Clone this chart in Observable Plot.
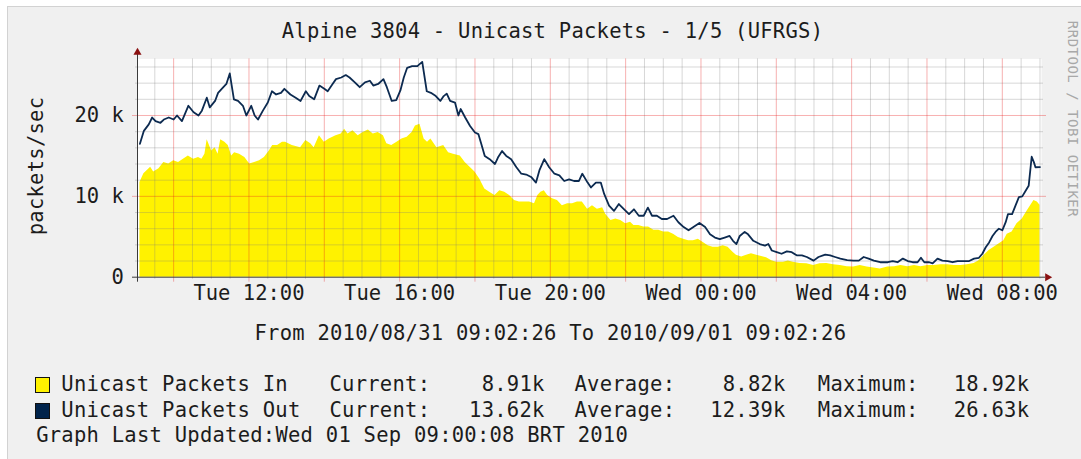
<!DOCTYPE html>
<html>
<head>
<meta charset="utf-8">
<script src="https://cdn.jsdelivr.net/npm/d3@7"></script>
<script src="https://cdn.jsdelivr.net/npm/@observablehq/plot@0.6"></script>
<style>
  html, body { margin: 0; padding: 0; background: #ffffff; }
  #root { position: relative; width: 1081px; height: 459px; overflow: hidden; font-family: "DejaVu Sans Mono", monospace; color: #1c1c1c; }
  #bg { position: absolute; left: 7px; top: 6px; width: 1074px; height: 453px; background: #f0f0f0; border-left: 1px solid #d2d2d2; border-top: 1px solid #d2d2d2; }
  .t { position: absolute; font-size: 20.5px; line-height: 20.5px; letter-spacing: 0.25px; white-space: pre; }
  .r { text-align: right; }
  .sw { position: absolute; width: 13px; height: 14px; border: 1px solid #111; }
  #chart { position: absolute; left: 0; top: 45px; }
</style>
</head>
<body>
<div id="root">
  <div id="bg"></div>
  <div class="t" id="title" style="left:552.5px; top:21px; transform:translateX(-50%);"></div>
  <div class="t" id="ylabel" style="left:36px; top:166px; transform:translate(-50%,-50%) rotate(-90deg);"></div>
  <div class="t" id="wm" style="left:1072.5px; top:119px; font-size:14px; line-height:14px; letter-spacing:0.5px; color:#a8a8a8; transform:translate(-50%,-50%) rotate(90deg);"></div>
  <div id="chart"></div>
  <div class="t" id="range" style="left:550.4px; top:322.5px; transform:translateX(-50%);"></div>
  <div id="legend"></div>
</div>
<script>
// ---- texts ----
const titleText = "Alpine 3804 - Unicast Packets - 1/5 (UFRGS)";
const yAxisLabel = "packets/sec";
const watermark = "RRDTOOL / TOBI OETIKER";
const rangeText = "From 2010/08/31 09:02:26 To 2010/09/01 09:02:26";
const updatedText = "Graph Last Updated:Wed 01 Sep 09:00:08 BRT 2010";

// ---- axis tick labels ----
const xTickLabels = ["Tue 12:00", "Tue 16:00", "Tue 20:00", "Wed 00:00", "Wed 04:00", "Wed 08:00"];
const yTicks = [0, 10000, 20000];
const yTickLabels = ["0", "10 k", "20 k"];

// ---- series: hours since Tue 2010-08-31 00:00, values in thousands of packets/sec ----
const outHours = [
  9.105, 9.21, 9.34, 9.43, 9.52, 9.65, 9.74, 9.87, 10.0, 10.09, 10.22, 10.39, 10.53, 10.66, 10.75, 10.88, 10.96, 11.10, 11.18, 11.32,
  11.40, 11.49, 11.60, 11.71, 11.84, 11.93, 12.06, 12.15, 12.24, 12.37, 12.50, 12.61, 12.72, 12.85, 12.94,
  13.10, 13.24, 13.37, 13.51, 13.60, 13.73, 13.87, 14.0, 14.09, 14.22, 14.31, 14.45, 14.57, 14.67, 14.81, 14.94, 15.08, 15.21, 15.30, 15.43,
  15.57, 15.66, 15.79, 15.91, 16.02, 16.11, 16.20, 16.33, 16.47, 16.60, 16.72, 16.83, 16.96,
  17.08, 17.17, 17.25, 17.34, 17.47, 17.56, 17.62, 17.74, 17.87, 18.0, 18.09, 18.18, 18.26, 18.39, 18.53, 18.61, 18.72, 18.83, 18.96, 19.10,
  19.23, 19.36, 19.49, 19.62, 19.71, 19.84, 19.97, 20.11, 20.24, 20.37, 20.50, 20.63, 20.76, 20.85,
  20.99, 21.08, 21.21, 21.34, 21.43, 21.56, 21.69, 21.82, 21.96, 22.09, 22.22, 22.35, 22.48, 22.59, 22.70, 22.83, 22.96, 23.10, 23.27, 23.40,
  23.54, 23.67, 23.80, 23.96, 24.11, 24.24, 24.37, 24.50, 24.63, 24.76, 24.85,
  24.94, 25.03, 25.16, 25.25, 25.39, 25.56, 25.70, 25.79, 25.88, 26.01, 26.14, 26.28, 26.41, 26.54, 26.68, 26.81, 26.99, 27.12, 27.30, 27.43,
  27.56, 27.70, 27.88, 28.05, 28.19, 28.32, 28.45, 28.59, 28.76,
  28.96, 29.09, 29.22, 29.36, 29.49, 29.62, 29.75, 29.84, 29.93, 30.06, 30.15, 30.28, 30.41, 30.55, 30.68, 30.81, 30.94, 31.12, 31.25, 31.38,
  31.47, 31.56, 31.65, 31.74, 31.82, 31.91, 32.0, 32.09, 32.15, 32.26, 32.35, 32.44, 32.53, 32.62, 32.70, 32.78, 32.84, 32.88, 33.0
];
const outValues = [
  16.5, 18.1, 18.9, 19.75, 19.3, 19.1, 19.5, 19.75, 19.5, 20.0, 19.3, 21.2, 20.4, 20.0, 20.6, 22.2, 21.0, 21.8, 22.8, 23.5,
  23.9, 25.2, 22.0, 21.8, 21.2, 20.0, 21.2, 20.0, 19.5, 20.6, 21.6, 23.0, 22.6, 22.8, 23.3,
  22.6, 22.2, 21.8, 23.0, 22.4, 22.0, 23.7, 23.3, 23.0, 23.9, 24.5, 24.7, 25.0, 24.7, 24.1, 23.5, 24.1, 24.3, 23.7, 23.9,
  24.5, 23.5, 21.8, 21.9, 23.1, 24.7, 25.9, 26.1, 26.1, 26.63, 23.0, 22.8, 22.4,
  21.8, 22.4, 22.7, 21.8, 21.6, 20.0, 20.8, 19.75, 18.7, 17.9, 17.7, 16.3, 15.0, 14.6, 14.0, 14.8, 15.6, 15.0, 14.6, 13.6,
  12.8, 12.7, 12.4, 11.7, 13.2, 14.6, 13.6, 12.8, 12.6, 11.9, 12.1, 11.9, 11.9, 12.8,
  11.7, 11.1, 11.7, 11.7, 10.3, 8.85, 8.2, 9.05, 8.4, 7.8, 8.4, 7.6, 7.6, 8.6, 7.6, 7.6, 7.2, 7.2, 7.6, 6.8,
  6.2, 5.8, 6.2, 6.7, 6.2, 5.3, 4.9, 4.7, 4.9, 5.1, 4.5,
  4.1, 5.1, 5.6, 5.3, 4.5, 4.1, 3.9, 4.1, 3.3, 3.1, 2.9, 3.2, 3.1, 2.7, 2.7, 2.5, 2.05, 2.5, 2.8, 2.7,
  2.5, 2.3, 2.1, 2.05, 2.05, 2.5, 2.3, 2.05, 1.85,
  1.85, 2.0, 1.85, 2.3, 2.0, 1.85, 1.85, 2.4, 1.85, 1.85, 1.7, 2.3, 2.05, 2.0, 1.85, 2.0, 2.0, 2.0, 2.3, 2.4,
  2.9, 3.7, 4.3, 5.1, 5.6, 6.0, 5.8, 6.8, 7.8, 7.8, 8.85, 9.9, 10.0, 10.7, 11.3, 14.9, 14.2, 13.6, 13.62
];
const inHours = [
  9.105, 9.21, 9.39, 9.47, 9.61, 9.74, 9.87, 10.0, 10.13, 10.26, 10.39, 10.53, 10.66, 10.75, 10.83, 10.89, 11.01, 11.10, 11.18, 11.25,
  11.36, 11.45, 11.54, 11.62, 11.75, 11.89, 12.02, 12.15, 12.28, 12.41, 12.54, 12.63, 12.76, 12.89,
  12.97, 13.15, 13.37, 13.51, 13.64, 13.73, 13.87, 14.0, 14.13, 14.31, 14.45, 14.54, 14.63, 14.76, 14.90, 15.03, 15.17, 15.30, 15.43, 15.57,
  15.66, 15.79, 15.93, 16.06, 16.20, 16.33, 16.42, 16.54, 16.65, 16.74, 16.83,
  16.99, 17.17, 17.30, 17.43, 17.61, 17.74, 17.87, 18.0, 18.13, 18.26, 18.39, 18.53, 18.66, 18.79, 18.92, 19.05, 19.18, 19.32, 19.45, 19.58,
  19.67, 19.75, 19.84, 19.93, 20.06, 20.19, 20.32, 20.46, 20.59, 20.72, 20.85,
  20.99, 21.12, 21.25, 21.39, 21.47, 21.61, 21.74, 21.87, 22.0, 22.13, 22.22, 22.35, 22.48, 22.61, 22.75, 22.88, 23.01, 23.14, 23.27, 23.40,
  23.54, 23.67, 23.80, 23.93, 24.06, 24.19, 24.32, 24.46, 24.59, 24.72, 24.85,
  24.94, 25.08, 25.21, 25.34, 25.48, 25.61, 25.74, 25.88, 26.01, 26.19, 26.32, 26.45, 26.63, 26.81, 26.99, 27.16, 27.34, 27.52, 27.70, 27.88,
  28.05, 28.23, 28.41, 28.59, 28.76,
  28.96, 29.14, 29.31, 29.49, 29.67, 29.84, 30.02, 30.19, 30.37, 30.55, 30.72, 30.90, 31.07, 31.25, 31.38, 31.52, 31.65, 31.78, 31.91, 32.04,
  32.13, 32.26, 32.39, 32.53, 32.66, 32.75, 32.84, 32.93, 33.0
];
const inValues = [
  11.7, 12.8, 13.6, 13.0, 13.4, 14.2, 14.0, 14.4, 14.2, 14.6, 15.0, 14.6, 14.8, 14.6, 15.2, 17.0, 15.6, 16.0, 15.2, 17.0,
  16.7, 16.3, 15.0, 15.4, 15.2, 14.8, 14.0, 14.2, 14.4, 14.8, 15.6, 16.3, 16.3, 16.7,
  16.7, 16.3, 16.0, 16.9, 16.5, 16.0, 17.5, 16.7, 17.1, 17.5, 17.7, 18.3, 17.7, 18.1, 17.5, 17.9, 18.2, 17.7, 17.9, 17.5,
  16.5, 16.3, 16.7, 17.1, 17.3, 17.9, 18.7, 18.92, 17.1, 16.7, 17.1,
  16.0, 16.3, 15.4, 15.2, 15.0, 14.2, 13.6, 13.0, 12.1, 10.9, 10.5, 10.1, 10.7, 10.5, 10.1, 9.5, 9.3, 9.3, 9.3, 9.1,
  10.1, 10.5, 10.7, 10.1, 9.7, 9.5, 8.85, 9.1, 9.1, 9.3, 9.3,
  8.4, 8.85, 8.4, 8.6, 7.8, 7.0, 7.2, 7.0, 6.6, 6.8, 6.4, 6.4, 6.2, 6.2, 5.8, 5.8, 5.6, 5.6, 5.3, 4.9,
  4.7, 4.5, 4.5, 4.7, 4.3, 3.9, 3.7, 3.7, 3.9, 3.7, 3.1,
  2.7, 2.5, 2.7, 2.9, 2.7, 2.55, 2.4, 2.05, 1.85, 1.85, 2.0, 1.85, 1.7, 1.65, 1.45, 1.65, 1.7, 1.55, 1.45, 1.3,
  1.25, 1.45, 1.25, 1.15, 1.0,
  1.25, 1.3, 1.45, 1.3, 1.45, 1.3, 1.45, 1.45, 1.55, 1.55, 1.45, 1.45, 1.55, 1.7, 2.05, 2.7, 3.3, 3.7, 4.1, 4.5,
  5.3, 5.6, 6.6, 7.2, 8.2, 8.85, 9.5, 9.3, 8.91
];

// ---- legend ----
const seriesNames = ["Unicast Packets In", "Unicast Packets Out"];
const seriesColors = ["#FFF200", "#00234B"];
const currentValues = ["8.91k", "13.62k"];
const averageValues = ["8.82k", "12.39k"];
const maximumValues = ["18.92k", "26.63k"];

// ---- build ----
const day0 = Date.UTC(2010, 7, 31);
const toDate = h => new Date(day0 + h * 3600e3);
const start = new Date(Date.UTC(2010, 7, 31, 9, 2, 26));
const end = new Date(Date.UTC(2010, 8, 1, 9, 2, 26));
const outData = outHours.map((h, i) => ({t: toDate(h), v: outValues[i] * 1000}));
const inData = inHours.map((h, i) => ({t: toDate(h), v: inValues[i] * 1000}));
const yMax = 27000;

const majorX = d3.utcHour.every(2).range(start, end);
const minorX = d3.utcMinute.every(30).range(start, end).filter(d => !(d.getUTCMinutes() === 0 && d.getUTCHours() % 2 === 0));
const labelX = d3.utcHour.every(4).range(start, end);
const majorY = yTicks.filter(v => v > 0);
const minorY = d3.range(2000, yMax, 2000).filter(v => v % 10000 !== 0);

const minorStroke = {stroke: "#7a7a7a", strokeOpacity: 0.3};
const majorStroke = {stroke: "#e82020", strokeOpacity: 0.35};

const chart = Plot.plot({
  width: 1081,
  height: 275,
  marginTop: 13.4,
  marginBottom: 43.3,
  marginLeft: 137,
  marginRight: 40,
  x: {type: "utc", domain: [start, end], axis: null},
  y: {domain: [0, yMax], axis: null},
  style: {fontFamily: "'DejaVu Sans Mono', monospace", fontSize: "20.5px", background: "transparent", color: "#1c1c1c", overflow: "visible"},
  marks: [
    Plot.frame({fill: "white", stroke: null}),
    Plot.areaY(inData, {x: "t", y: "v", fill: "#FFF200"}),
    Plot.ruleX(minorX, {...minorStroke, insetBottom: -2}),
    Plot.ruleY(minorY, {...minorStroke, insetLeft: -2, insetRight: -2}),
    Plot.ruleX(majorX, {...majorStroke, insetBottom: -5}),
    Plot.ruleY(majorY, {...majorStroke, insetLeft: -5, insetRight: -5}),
    Plot.line(outData, {x: "t", y: "v", stroke: "#0c2a50", strokeWidth: 1.8}),
    Plot.ruleX([start], {stroke: "#3a3a3a", insetTop: -8, insetBottom: -5}),
    Plot.ruleY([0], {stroke: "#3a3a3a", insetLeft: -5, insetRight: -4}),
    Plot.dot([{t: start, v: yMax}], {x: "t", y: "v", symbol: "triangle", r: 3, fill: "#8a1010", stroke: null, dy: -6.5}),
    Plot.dot([{t: end, v: 0}], {x: "t", y: "v", symbol: "triangle", r: 3, fill: "#8a1010", stroke: null, rotate: 90, dx: 6}),
    Plot.text(labelX, {x: d => d, frameAnchor: "bottom", dy: 22.6, text: (d, i) => xTickLabels[i], fill: "#1c1c1c"}),
    Plot.text(yTicks, {y: d => d, frameAnchor: "left", textAnchor: "end", dx: -13.7, text: (d, i) => yTickLabels[i], fill: "#1c1c1c"})
  ]
});
document.getElementById("chart").appendChild(chart);

document.getElementById("title").textContent = titleText;
document.getElementById("ylabel").textContent = yAxisLabel;
document.getElementById("wm").textContent = watermark;
document.getElementById("range").textContent = rangeText;

const legend = document.getElementById("legend");
const rowTops = [373.6, 399.6];
const add = (cls, style, text) => {
  const el = document.createElement("div");
  el.className = cls;
  el.setAttribute("style", style);
  if (text != null) el.textContent = text;
  legend.appendChild(el);
};
seriesNames.forEach((name, i) => {
  const top = rowTops[i];
  add("sw", `left:35px; top:${top + 3}px; background:${seriesColors[i]};`);
  add("t", `left:61.3px; top:${top}px;`, name);
  add("t", `left:329.5px; top:${top}px;`, "Current:");
  add("t r", `right:${1081 - 544.6}px; top:${top}px;`, currentValues[i]);
  add("t", `left:574.5px; top:${top}px;`, "Average:");
  add("t r", `right:${1081 - 785.7}px; top:${top}px;`, averageValues[i]);
  add("t", `left:817.8px; top:${top}px;`, "Maximum:");
  add("t r", `right:${1081 - 1029.3}px; top:${top}px;`, maximumValues[i]);
});
add("t", "left:36.2px; top:424.8px;", updatedText);
</script>
</body>
</html>
